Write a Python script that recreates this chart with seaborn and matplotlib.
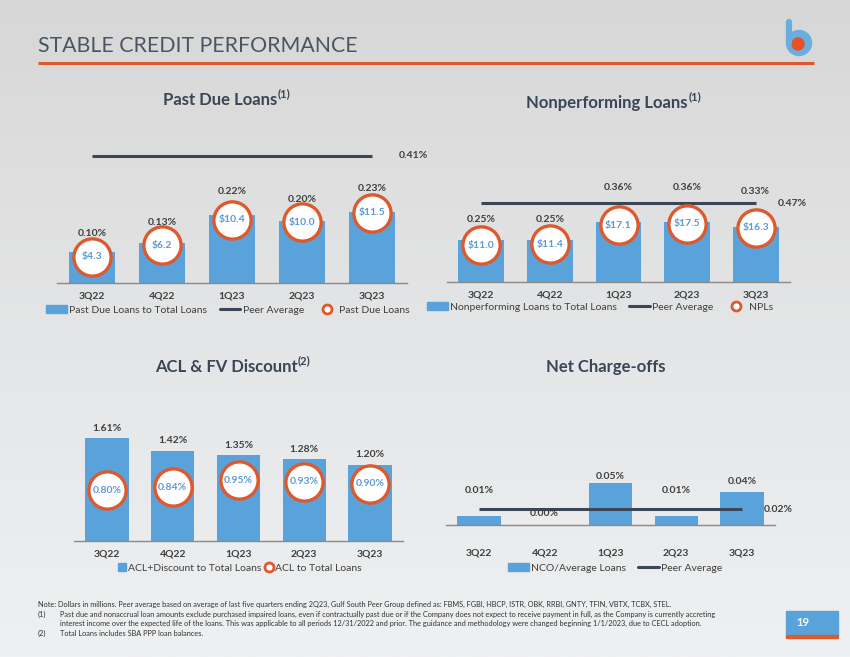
import matplotlib
matplotlib.use("Agg")
import matplotlib.pyplot as plt
import numpy as np
import seaborn as sns
from matplotlib.colors import LinearSegmentedColormap
from matplotlib.patches import Patch, Rectangle, Circle
from matplotlib.lines import Line2D

# ---- data ----
quarters = ["3Q22", "4Q22", "1Q23", "2Q23", "3Q23"]

past_due_pct = [0.10, 0.13, 0.22, 0.20, 0.23]
past_due_amt = [4.3, 6.2, 10.4, 10.0, 11.5]
past_due_peer = 0.41

npl_pct = [0.25, 0.25, 0.36, 0.36, 0.33]
npl_amt = [11.0, 11.4, 17.1, 17.5, 16.3]
npl_peer = 0.47

acl_disc_pct = [1.61, 1.42, 1.35, 1.28, 1.20]
acl_pct = [0.80, 0.84, 0.95, 0.93, 0.90]

nco_pct = [0.0104, 0.00, 0.05, 0.0104, 0.04]
nco_peer = 0.019

footnotes = [
    "Note: Dollars in millions. Peer average based on average of last five quarters ending 2Q23, Gulf South Peer Group defined as: FBMS, FGBI, HBCP, ISTR, OBK, RRBI, GNTY, TFIN, VBTX, TCBX, STEL.",
    "Past due and nonaccrual loan amounts exclude purchased impaired loans, even if contractually past due or if the Company does not expect to receive payment in full, as the Company is currently accreting",
    "interest income over the expected life of the loans. This was applicable to all periods 12/31/2022 and prior. The guidance and methodology were changed beginning 1/1/2023, due to CECL adoption.",
    "Total Loans includes SBA PPP loan balances.",
]

# ---- style ----
sns.set_style("white")
plt.rcParams["font.family"] = ["Lato", "DejaVu Sans"]

BLUE = "#5aa3da"
PEER = "#3b4656"
ORANGE = "#dc5a2e"
LABEL = "#3f3f3f"
CIRCLE_TXT = "#5b9ad3"
TITLE = "#3a4556"

W, H = 850, 657
fig = plt.figure(figsize=(W / 100, H / 100), dpi=100)

# background in pixel coordinates
bg = fig.add_axes([0, 0, 1, 1], zorder=-1)
bg.set_xlim(0, W)
bg.set_ylim(H, 0)
bg.axis("off")
cmap = LinearSegmentedColormap.from_list("bg", ["#d7d7d7", "#e4e5e6", "#eff0f1"])
bg.imshow(np.linspace(0, 1, 256).reshape(-1, 1), extent=[0, W, H, 0], aspect="auto", cmap=cmap)

bg.text(38, 46, "STABLE CREDIT PERFORMANCE", fontsize=15.3, fontweight="normal",
        color="#4a5563", va="center", ha="left")
bg.plot([38, 814], [63, 63], color=ORANGE, lw=2.2, solid_capstyle="butt")

# logo
bg.plot([789, 789], [22, 43], color="#6aaee0", lw=4.5, solid_capstyle="round")
bg.add_patch(Circle((799, 43), 12.5, color="#6aaee0"))
bg.add_patch(Circle((798, 44), 6, color="#e8502a"))


def panel_title(cx, cy, text, sup=None):
    shift = 8 if sup else 0
    t = bg.text(cx - shift, cy, text, fontsize=12, fontweight="bold", color=TITLE,
                ha="center", va="center")
    if sup:
        bg.annotate(sup, xy=(1.0, 0.9), xycoords=t, xytext=(0.5, 0),
                    textcoords="offset points", fontsize=8, fontweight="bold",
                    color=TITLE, ha="left", va="center")


panel_title(228, 100, "Past Due Loans", "(1)")
panel_title(615, 103, "Nonperforming Loans", "(1)")
panel_title(234, 367, "ACL & FV Discount", "(2)")
panel_title(606, 367, "Net Charge-offs")

# footnotes
fy = [604, 614, 623.5, 633]
fn = dict(fontsize=5.35, color="#333333", va="center")
bg.text(38, fy[0], footnotes[0], **fn)
bg.text(38, fy[1], "(1)", **fn)
bg.text(60, fy[1], footnotes[1], **fn)
bg.text(60, fy[2], footnotes[2], **fn)
bg.text(38, fy[3], "(2)", **fn)
bg.text(60, fy[3], footnotes[3], **fn)

# page number
bg.add_patch(Rectangle((786, 611), 52, 24, color="#5aa3da"))
bg.add_patch(Rectangle((786, 635), 52, 3, color=ORANGE))
bg.text(803, 623, "19", fontsize=8, fontweight="bold", color="white", va="center", ha="center")


def make_axes(x0, x1, top, base):
    return fig.add_axes([x0 / W, (H - base) / H, (x1 - x0) / W, (base - top) / H])


def style_axes(ax, pad):
    ax.set_facecolor("none")
    for s in ["top", "right", "left"]:
        ax.spines[s].set_visible(False)
    ax.spines["bottom"].set_color("#8a8a8a")
    ax.spines["bottom"].set_linewidth(1)
    ax.set_xlim(-0.5, len(quarters) - 0.5)
    ax.set_xticks(np.arange(len(quarters)))
    ax.set_xticklabels(quarters, fontsize=7.5, fontweight="bold", color=LABEL)
    ax.set_xticks(np.arange(len(quarters) + 1) - 0.5, minor=True)
    ax.tick_params(axis="x", which="major", length=0, pad=pad)
    ax.tick_params(axis="x", which="minor", length=4, color="#8a8a8a", direction="out")
    ax.set_yticks([])
    ax.set_xlabel("")
    ax.set_ylabel("")


def bars(ax, vals, width):
    sns.barplot(x=quarters, y=vals, color=BLUE, saturation=1, width=width, linewidth=0,
                ax=ax, zorder=2)


def pct_labels(ax, vals, offsets_px):
    for i, (v, off) in enumerate(zip(vals, offsets_px)):
        ax.annotate(f"{round(v, 2):.2f}%", xy=(i, v), xytext=(0, off * 0.72),
                    textcoords="offset points", ha="center", va="center",
                    fontsize=7.5, fontweight="bold", color=LABEL)


def peer_line(ax, peer, gap_px):
    n = len(quarters)
    ax.plot([0, n - 1], [peer, peer], color=PEER, lw=2.2, solid_capstyle="butt", zorder=3)
    ax.annotate(f"{peer:.2f}%", xy=(n - 1, peer), xytext=(gap_px * 0.72, 0),
                textcoords="offset points", ha="left", va="center",
                fontsize=7.5, fontweight="bold", color=LABEL)


def rings(ax, vals, texts):
    x = np.arange(len(vals))
    ax.scatter(x, vals, s=720, facecolor="white", edgecolor=ORANGE, linewidth=2.4, zorder=5)
    for i, (v, t) in enumerate(zip(vals, texts)):
        ax.text(i, v, t, ha="center", va="center", fontsize=7.5, fontweight="bold",
                color=CIRCLE_TXT, zorder=6)


ring_handle = Line2D([], [], marker="o", linestyle="none", markersize=6.5,
                     markerfacecolor="white", markeredgecolor=ORANGE, markeredgewidth=2)
peer_handle = Line2D([], [], color=PEER, lw=2.2)


def legend(ax, handles, labels, cx, cy, **kw):
    opts = dict(loc="center", bbox_to_anchor=(cx / W, 1 - cy / H), bbox_transform=fig.transFigure,
                ncol=len(handles), frameon=False, fontsize=7.5, handlelength=2.0,
                handletextpad=0.2, columnspacing=1.2, labelcolor=LABEL)
    opts.update(kw)
    ax.legend(handles, labels, **opts)


# ---- Past Due Loans ----
x0, x1, top, base = 57, 407, 140, 283
ax1 = make_axes(x0, x1, top, base)
bars(ax1, past_due_pct, 0.66)
style_axes(ax1, 6)
ax1.set_ylim(0, (base - top) / 310)
peer_line(ax1, past_due_peer, 27)
pct_labels(ax1, past_due_pct, [19, 20, 23, 21, 23])
ax1b = ax1.twinx()
ax1b.set_ylim(0, (base - top) / 6.1)
ax1b.axis("off")
rings(ax1b, past_due_amt, [f"\\${v:.1f}" for v in past_due_amt])
legend(ax1, [Patch(color=BLUE), peer_handle, ring_handle],
       ["Past Due Loans to Total Loans", "Peer Average", "Past Due Loans"], 228, 310)

# ---- Nonperforming Loans ----
x0, x1, top, base = 447, 790, 140, 282
ax2 = make_axes(x0, x1, top, base)
bars(ax2, npl_pct, 0.67)
style_axes(ax2, 6)
ax2.set_ylim(0, (base - top) / 168)
peer_line(ax2, npl_peer, 22)
pct_labels(ax2, npl_pct, [21, 20, 34, 34, 35])
ax2b = ax2.twinx()
ax2b.set_ylim(0, (base - top) / 3.33)
ax2b.axis("off")
rings(ax2b, npl_amt, [f"\\${v:.1f}" for v in npl_amt])
legend(ax2, [Patch(color=BLUE), peer_handle, ring_handle],
       ["Nonperforming Loans to Total Loans", "Peer Average", "NPLs"], 600, 307)

# ---- ACL & FV Discount ----
x0, x1, top, base = 74, 403, 415, 541
ax3 = make_axes(x0, x1, top, base)
bars(ax3, acl_disc_pct, 0.66)
style_axes(ax3, 6)
ax3.set_ylim(0, (base - top) / 63.7)
pct_labels(ax3, acl_disc_pct, [10, 10, 10, 10, 10])
rings(ax3, acl_pct, [f"{v:.2f}%" for v in acl_pct])
legend(ax3, [Patch(color=BLUE), ring_handle],
       ["ACL+Discount to Total Loans", "ACL to Total Loans"], 240, 568,
       handlelength=0.8, handleheight=0.8, columnspacing=0.3)

# ---- Net Charge-offs ----
x0, x1, top, base = 446, 775, 460, 525
ax4 = make_axes(x0, x1, top, base)
bars(ax4, nco_pct, 0.66)
style_axes(ax4, 17)
ax4.set_ylim(0, (base - top) / 835)
peer_line(ax4, nco_peer, 22)
pct_labels(ax4, nco_pct, [26, 12, 7, 26, 10])
legend(ax4, [Patch(color=BLUE), peer_handle], ["NCO/Average Loans", "Peer Average"], 615, 568)

fig.savefig("out.png", dpi=100)
